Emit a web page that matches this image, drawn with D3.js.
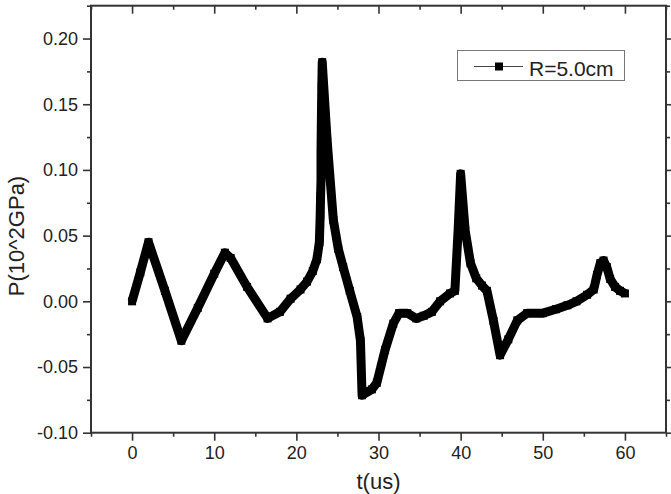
<!DOCTYPE html>
<html><head><meta charset="utf-8">
<script src="https://cdn.jsdelivr.net/npm/d3@7"></script>
<style>body{margin:0;background:#fff}svg{display:block}</style>
</head><body>
<svg id="c" width="671" height="494"></svg>
<script>
const tValues = [0,1,2,4,6,8,10,11.3,12,14,16.5,18,19.3,20.5,21.3,22,22.5,22.8,22.9,22.95,23.0,23.0,23.05,23.1,23.15,23.75,24.5,25.1,25.7,26.5,27.4,27.8,28.0,29.2,29.8,30.8,31.8,32.5,33.5,34.6,35.5,36.5,37.5,38.7,39.3,39.7,40.0,40.55,41.2,41.9,42.6,43.2,44.0,44.8,45.8,46.9,48.1,50,51.6,53,54.1,55.4,56.2,56.6,57.0,57.4,57.8,58.2,58.8,59.4,60];
const pValues = [0,0.022,0.045,0.008,-0.030,-0.005,0.021,0.037,0.033,0.011,-0.013,-0.008,0.002,0.009,0.015,0.023,0.032,0.045,0.065,0.080,0.092,0.113,0.140,0.164,0.182,0.122,0.062,0.040,0.026,0.008,-0.012,-0.030,-0.0715,-0.067,-0.062,-0.037,-0.017,-0.009,-0.009,-0.013,-0.011,-0.008,0.0,0.006,0.008,0.055,0.097,0.054,0.029,0.0175,0.012,0.008,-0.015,-0.041,-0.029,-0.0145,-0.009,-0.009,-0.006,-0.003,0.0,0.005,0.009,0.020,0.029,0.031,0.026,0.017,0.011,0.008,0.006];
const xTicks = [0,10,20,30,40,50,60];
const xMinor = [-5,5,15,25,35,45,55,65];
const yTicks = [-0.10,-0.05,0.00,0.05,0.10,0.15,0.20];
const yMinor = [-0.075,-0.025,0.025,0.075,0.125,0.175,0.225];
const seriesName = "R=5.0cm";
const xTitle = "t(us)";
const yTitle = "P(10^2GPa)";

(function(){
const svg = d3.select("#c");
const font = "'Liberation Sans', Arial, sans-serif";
const L = 91, R = 666, T = 5.7, B = 432.7;
const x = d3.scaleLinear().domain([-5,65]).range([L,R]);
const y = d3.scaleLinear().domain([-0.1,0.225]).range([B,T]);
const axCol = "#333";
const yFmt = v => d3.format(".2f")(v).replace("\u2212","-");

// data line
const data = tValues.map((t,i)=>({t, p:pValues[i]}));
const line = d3.line().x(d=>x(d.t)).y(d=>y(d.p));
svg.append("path").datum(data).attr("d", line).attr("fill","none")
  .attr("stroke","#000").attr("stroke-width",9).attr("stroke-linejoin","round");
const ms = 8;
svg.selectAll("rect.m").data(data).enter().append("rect").attr("class","m")
  .attr("x",d=>x(d.t)-ms/2).attr("y",d=>y(d.p)-ms/2).attr("width",ms).attr("height",ms).attr("fill","#000");

// axes
function styleAxis(g){
  g.select(".domain").remove();
  g.selectAll("line").attr("stroke",axCol).attr("stroke-width",1.6);
  g.selectAll("text").attr("font-family",font).attr("font-size",18).attr("fill","#222");
}
svg.append("g").attr("transform",`translate(0,${B})`)
  .call(d3.axisBottom(x).tickValues(xTicks).tickFormat(d3.format("d")).tickSize(8).tickPadding(6)).call(styleAxis);
svg.append("g").attr("transform",`translate(0,${B})`)
  .call(d3.axisBottom(x).tickValues(xMinor).tickFormat("").tickSize(4)).call(styleAxis);
svg.append("g").attr("transform",`translate(0,${T})`)
  .call(d3.axisBottom(x).tickValues(xTicks).tickFormat("").tickSize(8)).call(styleAxis);
svg.append("g").attr("transform",`translate(0,${T})`)
  .call(d3.axisBottom(x).tickValues(xMinor).tickFormat("").tickSize(4)).call(styleAxis);
svg.append("g").attr("transform",`translate(${L},0)`)
  .call(d3.axisLeft(y).tickValues(yTicks).tickFormat(yFmt).tickSize(8).tickPadding(5)).call(styleAxis);
svg.append("g").attr("transform",`translate(${L},0)`)
  .call(d3.axisLeft(y).tickValues(yMinor).tickFormat("").tickSize(4)).call(styleAxis);
svg.append("g").attr("transform",`translate(${R},0)`)
  .call(d3.axisLeft(y).tickValues(yTicks).tickFormat("").tickSize(-8)).call(styleAxis);
svg.append("g").attr("transform",`translate(${R},0)`)
  .call(d3.axisLeft(y).tickValues(yMinor).tickFormat("").tickSize(-4)).call(styleAxis);

// frame
svg.append("rect").attr("x",L).attr("y",T).attr("width",R-L).attr("height",B-T)
  .attr("fill","none").attr("stroke",axCol).attr("stroke-width",2);

// titles
svg.append("text").attr("x",(L+R)/2).attr("y",489).attr("text-anchor","middle")
  .attr("font-family",font).attr("font-size",22).attr("fill","#222").text(xTitle);
svg.append("text").attr("transform","translate(23.5,236) rotate(-90)").attr("text-anchor","middle")
  .attr("font-family",font).attr("font-size",22).attr("fill","#222").text(yTitle);

// legend
const lg = svg.append("g");
lg.append("rect").attr("x",457.5).attr("y",50.5).attr("width",167).attr("height",30)
  .attr("fill","#fff").attr("stroke","#777").attr("stroke-width",1);
lg.append("line").attr("x1",474).attr("x2",523).attr("y1",66.5).attr("y2",66.5)
  .attr("stroke","#444").attr("stroke-width",1.2);
lg.append("rect").attr("x",495).attr("y",62.5).attr("width",8).attr("height",8).attr("fill","#000");
lg.append("text").attr("x",529).attr("y",75.7).attr("font-family",font).attr("font-size",21)
  .attr("fill","#222").text(seriesName);
})();
</script>
</body></html>
